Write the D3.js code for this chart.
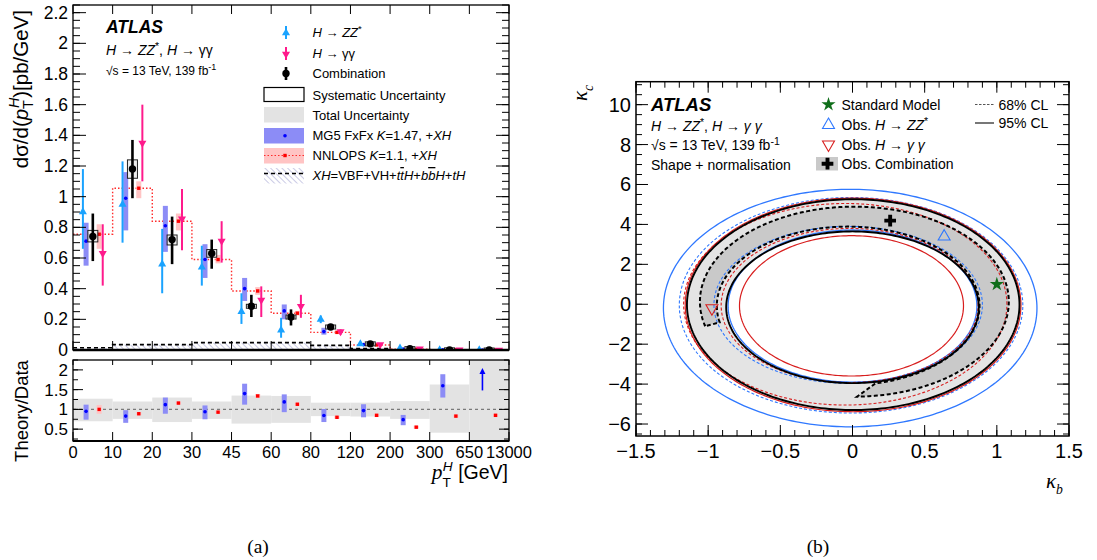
<!DOCTYPE html>
<html><head><meta charset="utf-8">
<script src="https://cdn.jsdelivr.net/npm/d3@7/dist/d3.min.js"></script>
<style>html,body{margin:0;padding:0;background:#fff;}svg{display:block;}</style>
</head><body>
<svg id="chart" width="1097" height="560"></svg>
<script>
// ================= DATA =================
// (a) differential cross section, bins of pT^H [GeV]
const binEdgeLabels = ["0","10","20","30","45","60","80","120","200","300","650","13000"];
const zzVal   = [0.90,0.95,0.56,0.54,0.25,0.13,0.20,0.040,0.012,0.0015,0.0001];
const zzLo    = [0.66,0.70,0.37,0.42,0.17,0.08,0.175,0.030,0.006,0.0005,0];
const zzHi    = [1.18,1.23,0.79,0.68,0.37,0.21,0.225,0.052,0.018,0.003,0.0005];
const yyVal   = [0.63,1.35,0.855,0.71,0.325,0.285,0.12,0.035,0.008,0.0013,0.0001];
const yyLo    = [0.42,1.10,0.65,0.57,0.215,0.21,0.10,0.028,0.005,0.0007,0];
const yyHi    = [0.82,1.60,1.05,0.84,0.415,0.36,0.135,0.042,0.011,0.002,0.0003];
const combVal = [0.74,1.18,0.72,0.63,0.285,0.215,0.15,0.040,0.009,0.0011,0.00005];
const combLo  = [0.58,0.99,0.56,0.53,0.215,0.16,0.13,0.034,0.007,0.0007,0];
const combHi  = [0.89,1.37,0.87,0.72,0.36,0.265,0.165,0.046,0.011,0.0015,0.0002];
const combSysLo = [0.705,1.12,0.685,0.605,0.272,0.207,0.145,0.038,0.0085,0.001,0.00004];
const combSysHi = [0.78,1.24,0.75,0.655,0.298,0.228,0.155,0.042,0.0095,0.0012,0.00006];
const mgVal   = [0.71,0.99,0.81,0.59,0.40,0.255,0.12,0.035,0.0067,0.0018,0.0001];
const mgLo    = [0.55,0.78,0.64,0.47,0.32,0.20,0.10,0.028,0.0054,0.0014,0];
const mgHi    = [0.83,1.16,0.94,0.69,0.47,0.297,0.145,0.040,0.0078,0.0021,0.0002];
const nnVal   = [0.755,1.055,0.84,0.59,0.385,0.24,0.115,0.033,0.005,0.0009,0.00004];
const nnLo    = [0.66,0.99,0.78,0.565,0.36,0.225,0.105,0.030,0.0045,0.0008,0];
const nnHi    = [0.82,1.10,0.89,0.62,0.41,0.255,0.125,0.036,0.0055,0.001,0.0001];
const xhVal   = [0.015,0.035,0.035,0.048,0.048,0.048,0.030,0.010,0.002,0.0003,0.00001];
// ratio panel (Theory/Data)
const totLo   = [0.70,0.76,0.68,0.76,0.64,0.66,0.83,0.82,0.76,0.41,0.20];
const totHi   = [1.27,1.20,1.30,1.20,1.35,1.34,1.17,1.17,1.21,1.63,2.25];
const rMg     = [0.95,0.83,1.12,0.94,1.40,1.19,0.845,0.97,0.74,1.60,null];
const rMgLo   = [0.74,0.66,0.89,0.75,1.12,0.93,0.68,0.80,0.60,1.30,null];
const rMgHi   = [1.12,0.98,1.30,1.10,1.65,1.38,1.01,1.13,0.86,1.89,null];
const rMgArrow = [10, 1.48, 2.02];   // bin, from, to (off-scale point)
const rNn     = [1.00,0.89,1.16,0.93,1.34,1.13,0.80,0.85,0.55,0.83,0.85];
const rNnErr  = [0.11,0.04,0.04,0.04,0.05,0.04,0.04,0.04,0.04,0.04,0.04];
const yMainTicks  = [0,0.2,0.4,0.6,0.8,1,1.2,1.4,1.6,1.8,2,2.2];
const yRatioTicks = [0.5,1,1.5,2];

// (b) kappa_b - kappa_c contours, each ellipse = [kb centre, kc centre, kb half-width, kc half-height]
const zz95Outer  = [-0.016,-0.19,1.294,5.95];
const zz95Inner  = [0.000,-0.09,0.862,3.81];
const zz68Outer  = [-0.010,-0.05,1.190,5.40];
const zz68Inner  = [-0.030,-0.03,0.930,3.93];
const yy95Outer  = [0.004,-0.035,1.163,5.35];
const yy95Inner  = [-0.007,-0.08,0.776,3.515];
const yy68Outer  = [-0.050,0.00,1.120,5.05];
const yy68Inner  = [-0.020,-0.06,0.890,3.86];
const comb95Outer= [0.005,-0.02,1.152,5.28];
const comb95Inner= [0.000,-0.15,0.875,3.80];
const comb68Outer= [0.013,0.13,1.070,4.76];
const comb68Inner= [-0.030,-0.08,0.910,3.97];
const comb68Arc  = [195,-89,192,-78];   // outer start/end, inner start/end angle (deg)
const smPoint    = [1.0,1.0];
const zzBest     = [0.635,3.39];
const yyBest     = [-0.974,-0.20];
const combBest   = [0.261,4.19];
const kbTicks = [-1.5,-1,-0.5,0,0.5,1,1.5];
const kcTicks = [-6,-4,-2,0,2,4,6,8,10];

// ================= SETUP =================
const SANS='"Liberation Sans", Arial, Helvetica, sans-serif';
const SERIF='"Liberation Serif","Times New Roman",serif';
const svg=d3.select("#chart").attr("font-family",SANS);

function rich(parent,x,y,parts,size,opt={}){
  const t=parent.append("text").attr("x",x).attr("y",y).attr("font-size",size).attr("fill",opt.fill||"#000");
  if(opt.anchor) t.attr("text-anchor",opt.anchor);
  if(opt.rotate!=null) t.attr("transform",`rotate(${opt.rotate},${x},${y})`);
  if(opt.family) t.attr("font-family",opt.family);
  if(opt.weight) t.attr("font-weight",opt.weight);
  if(opt.style) t.attr("font-style",opt.style);
  let cur=0;
  parts.forEach(p=>{
    if(typeof p==="string") p={s:p};
    const sh=p.sh||0;
    const ts=t.append("tspan").text(p.s);
    if(sh!==cur){ts.attr("dy",sh-cur);cur=sh;}
    if(p.dx) ts.attr("dx",p.dx);
    if(p.it) ts.attr("font-style","italic");
    if(p.b) ts.attr("font-weight","bold");
    if(p.fs) ts.attr("font-size",size*p.fs);
    if(p.ov) ts.style("text-decoration","overline");
    if(p.ff) ts.attr("font-family",p.ff);
  });
  return t;
}
function ticks(g,vals,scale,orient,pos,len,sw=1){
  g.selectAll(null).data(vals).join("line")
    .attr("x1",d=>orient==="h"?pos:scale(d)).attr("x2",d=>orient==="h"?pos+len:scale(d))
    .attr("y1",d=>orient==="h"?scale(d):pos).attr("y2",d=>orient==="h"?scale(d):pos+len)
    .attr("stroke","#000").attr("stroke-width",sw);
}

const defs=svg.append("defs");
defs.html(`<pattern id="hatch" patternUnits="userSpaceOnUse" width="4" height="4" patternTransform="rotate(-45)"><line x1="0" y1="0" x2="0" y2="4" stroke="#b3b3da" stroke-width="1.4"/></pattern>`);

// ================= LEFT PANEL =================
const nb=binEdgeLabels.length-1;
const bins=d3.range(nb);
const xL=d3.scaleLinear().domain([0,nb]).range([73,509]);
const yM=d3.scaleLinear().domain([0,2.25]).range([350,5]);
const yR=d3.scaleLinear().domain([0.2,2.25]).range([441,360]);
const off={zz:0.25,mg:0.33,comb:0.5,nn:0.66,yy:0.75};
const [mx0,mx1]=xL.range();

defs.append("clipPath").attr("id","clipM").append("rect")
  .attr("x",mx0).attr("y",yM(2.25)).attr("width",mx1-mx0).attr("height",yM(0)-yM(2.25));
defs.append("clipPath").attr("id","clipR").append("rect")
  .attr("x",mx0).attr("y",yR(2.25)).attr("width",mx1-mx0).attr("height",yR(0.2)-yR(2.25));

const gM=svg.append("g").attr("clip-path","url(#clipM)");
const stepPts=arr=>bins.map(i=>[i,arr[i]]).concat([[nb,arr[nb-1]]]);
// XH hatched
gM.append("path").datum(stepPts(xhVal))
  .attr("d",d3.area().curve(d3.curveStepAfter).x(d=>xL(d[0])).y0(yM(0)).y1(d=>yM(d[1])))
  .attr("fill","url(#hatch)");
gM.append("path").datum(stepPts(xhVal))
  .attr("d",d3.line().curve(d3.curveStepAfter).x(d=>xL(d[0])).y(d=>yM(d[1])))
  .attr("fill","none").attr("stroke","#000").attr("stroke-width",1.6).attr("stroke-dasharray","4,3");
// NNLOPS dotted histogram
gM.append("path").datum(stepPts(nnVal))
  .attr("d",d3.line().curve(d3.curveStepAfter).x(d=>xL(d[0])).y(d=>yM(d[1])))
  .attr("fill","none").attr("stroke","#ff2a2a").attr("stroke-width",1.4).attr("stroke-dasharray","1.5,2");
// MG5 boxes
gM.selectAll(null).data(bins).join("rect")
  .attr("x",i=>xL(i+off.mg)-2.5).attr("width",5)
  .attr("y",i=>yM(mgHi[i])).attr("height",i=>Math.max(1.5,yM(mgLo[i])-yM(mgHi[i])))
  .attr("fill","#8c8cf6");
gM.selectAll(null).data(bins).join("circle")
  .attr("cx",i=>xL(i+off.mg)).attr("cy",i=>yM(mgVal[i])).attr("r",1.8).attr("fill","#0000ff");
// NNLOPS boxes
gM.selectAll(null).data(bins).join("rect")
  .attr("x",i=>xL(i+off.nn)-2.5).attr("width",5)
  .attr("y",i=>yM(nnHi[i])).attr("height",i=>Math.max(1.5,yM(nnLo[i])-yM(nnHi[i])))
  .attr("fill","#ffc4c4");
gM.selectAll(null).data(bins).join("rect")
  .attr("x",i=>xL(i+off.nn)-1.7).attr("y",i=>yM(nnVal[i])-1.7).attr("width",3.4).attr("height",3.4).attr("fill","#ff0000");
// ZZ
const cZZ="#1aa3ff", cYY="#ff1a8c";
gM.selectAll(null).data(bins).join("line")
  .attr("x1",i=>xL(i+off.zz)).attr("x2",i=>xL(i+off.zz)).attr("y1",i=>yM(zzLo[i])).attr("y2",i=>yM(zzHi[i]))
  .attr("stroke",cZZ).attr("stroke-width",2);
gM.selectAll(null).data(bins).join("path")
  .attr("d",d3.symbol(d3.symbolTriangle,28))
  .attr("transform",i=>`translate(${xL(i+off.zz)},${yM(zzVal[i])})`).attr("fill",cZZ);
// gamma gamma
gM.selectAll(null).data(bins).join("line")
  .attr("x1",i=>xL(i+off.yy)).attr("x2",i=>xL(i+off.yy)).attr("y1",i=>yM(yyLo[i])).attr("y2",i=>yM(yyHi[i]))
  .attr("stroke",cYY).attr("stroke-width",2);
gM.selectAll(null).data(bins).join("path")
  .attr("d",d3.symbol(d3.symbolTriangle,28))
  .attr("transform",i=>`translate(${xL(i+off.yy)},${yM(yyVal[i])}) rotate(180)`).attr("fill",cYY);
// combination: sys box, error bar, dot
gM.selectAll(null).data(bins).join("rect")
  .attr("x",i=>xL(i+off.comb)-5).attr("width",10)
  .attr("y",i=>{const h=yM(combSysLo[i])-yM(combSysHi[i]);return h<4?yM(combVal[i])-2:yM(combSysHi[i]);})
  .attr("height",i=>Math.max(4,yM(combSysLo[i])-yM(combSysHi[i])))
  .attr("fill","#e4e4e4").attr("fill-opacity",0.7).attr("stroke","#222").attr("stroke-width",1);
gM.selectAll(null).data(bins).join("line")
  .attr("x1",i=>xL(i+off.comb)).attr("x2",i=>xL(i+off.comb)).attr("y1",i=>yM(combLo[i])).attr("y2",i=>yM(combHi[i]))
  .attr("stroke","#000").attr("stroke-width",2.6);
gM.selectAll(null).data(bins).join("circle")
  .attr("cx",i=>xL(i+off.comb)).attr("cy",i=>yM(combVal[i])).attr("r",3.7).attr("fill","#000");

// main frame + ticks
const gA=svg.append("g");
gA.append("rect").attr("x",mx0).attr("y",yM(2.25)).attr("width",mx1-mx0).attr("height",yM(0)-yM(2.25))
  .attr("fill","none").attr("stroke","#000").attr("stroke-width",1.3);
gA.append("line").attr("x1",mx0).attr("x2",mx1).attr("y1",yM(0)).attr("y2",yM(0)).attr("stroke","#000").attr("stroke-width",2.4);
const yMinor=d3.range(0,46).map(i=>i*0.05);
ticks(gA,yMinor,yM,"h",mx0,7); ticks(gA,yMainTicks,yM,"h",mx0,13);
ticks(gA,yMinor,yM,"h",mx1,-7); ticks(gA,yMainTicks,yM,"h",mx1,-13);
const edges=d3.range(0,nb+1);
ticks(gA,edges,xL,"v",yM(2.25),9); ticks(gA,edges,xL,"v",yM(0),-9);
gA.selectAll(null).data(yMainTicks).join("text")
  .attr("x",mx0-5).attr("y",d=>yM(d)+6).attr("text-anchor","end").attr("font-size",17.5)
  .text(d=>String(+d.toFixed(1)));

// ratio panel
const gR=svg.append("g").attr("clip-path","url(#clipR)");
gR.selectAll(null).data(bins).join("rect")
  .attr("x",i=>xL(i)).attr("width",i=>xL(i+1)-xL(i))
  .attr("y",i=>yR(totHi[i])).attr("height",i=>yR(totLo[i])-yR(totHi[i])).attr("fill","#e3e3e3");
gR.append("line").attr("x1",mx0).attr("x2",mx1).attr("y1",yR(1)).attr("y2",yR(1))
  .attr("stroke","#7a7a7a").attr("stroke-width",1.4).attr("stroke-dasharray","3,3");
const mgB=bins.filter(i=>rMg[i]!=null);
gR.selectAll(null).data(mgB).join("rect")
  .attr("x",i=>xL(i+off.mg)-2.5).attr("width",5).attr("y",i=>yR(rMgHi[i])).attr("height",i=>yR(rMgLo[i])-yR(rMgHi[i]))
  .attr("fill","#8c8cf6");
gR.selectAll(null).data(mgB).join("circle")
  .attr("cx",i=>xL(i+off.mg)).attr("cy",i=>yR(rMg[i])).attr("r",1.8).attr("fill","#0000ff");
gR.selectAll(null).data(bins).join("rect")
  .attr("x",i=>xL(i+off.nn)-2.5).attr("width",5).attr("y",i=>yR(rNn[i]+rNnErr[i])).attr("height",i=>yR(rNn[i]-rNnErr[i])-yR(rNn[i]+rNnErr[i]))
  .attr("fill","#ffc4c4");
gR.selectAll(null).data(bins).join("rect")
  .attr("x",i=>xL(i+off.nn)-1.7).attr("y",i=>yR(rNn[i])-1.7).attr("width",3.4).attr("height",3.4).attr("fill","#ff0000");
{
  const ax=xL(rMgArrow[0]+off.mg);
  gR.append("line").attr("x1",ax).attr("x2",ax).attr("y1",yR(rMgArrow[1])).attr("y2",yR(rMgArrow[2])+3)
    .attr("stroke","#0000ff").attr("stroke-width",1.6);
  gR.append("path").attr("d",`M${ax-3},${yR(rMgArrow[2])+5}L${ax},${yR(rMgArrow[2])-1}L${ax+3},${yR(rMgArrow[2])+5}Z`).attr("fill","#0000ff");
}
const gRA=svg.append("g");
gRA.append("rect").attr("x",mx0).attr("y",yR(2.25)).attr("width",mx1-mx0).attr("height",yR(0.2)-yR(2.25))
  .attr("fill","none").attr("stroke","#000").attr("stroke-width",1.3);
gRA.append("line").attr("x1",mx0).attr("x2",mx1).attr("y1",yR(0.2)).attr("y2",yR(0.2)).attr("stroke","#000").attr("stroke-width",2);
const rMinor=[0.25,0.5,0.75,1,1.25,1.5,1.75,2,2.25];
ticks(gRA,rMinor,yR,"h",mx0,5); ticks(gRA,yRatioTicks,yR,"h",mx0,10);
ticks(gRA,rMinor,yR,"h",mx1,-5); ticks(gRA,yRatioTicks,yR,"h",mx1,-10);
ticks(gRA,edges,xL,"v",yR(2.25),5); ticks(gRA,edges,xL,"v",yR(0.2),-9);
gRA.selectAll(null).data(yRatioTicks).join("text")
  .attr("x",mx0-5).attr("y",d=>yR(d)+6).attr("text-anchor","end").attr("font-size",17).text(d=>String(d));
gRA.selectAll(null).data(edges).join("text")
  .attr("x",i=>xL(i)).attr("y",yR(0.2)+17).attr("text-anchor","middle").attr("font-size",16.5).text(i=>binEdgeLabels[i]);

// axis titles left
rich(svg,28,10,["dσ/d(",{s:"p",it:1},{s:"T",fs:0.7,sh:5},{s:"H",fs:0.7,it:1,sh:-9,dx:-8},{s:")[pb/GeV]",sh:0}],20.5,{anchor:"end",rotate:-90});
rich(svg,28,411,["Theory/Data"],18.5,{anchor:"middle",rotate:-90});
rich(svg,508,479,[{s:"p",it:1,ff:SERIF,fs:1.1},{s:"T",fs:0.7,sh:8},{s:"H",fs:0.7,it:1,sh:-8,dx:-8},{s:" [GeV]",sh:0}],19.5,{anchor:"end"});

// texts left
rich(svg,106,33,[{s:"ATLAS",b:1,it:1}],17.5);
rich(svg,106,55,[{s:"H",it:1}," → ",{s:"ZZ",it:1},{s:"*",sh:-5,fs:0.75},{s:", ",sh:0},{s:"H",it:1}," → γγ"],14);
rich(svg,106,75,["√s = 13 TeV, 139 fb",{s:"-1",sh:-5,fs:0.75}],12);

// legend left
const lgx=286, lgt=312.5;
svg.append("line").attr("x1",lgx).attr("x2",lgx).attr("y1",26).attr("y2",39).attr("stroke",cZZ).attr("stroke-width",2);
svg.append("path").attr("d",d3.symbol(d3.symbolTriangle,28)).attr("transform",`translate(${lgx},33)`).attr("fill",cZZ);
svg.append("line").attr("x1",lgx).attr("x2",lgx).attr("y1",47).attr("y2",60).attr("stroke",cYY).attr("stroke-width",2);
svg.append("path").attr("d",d3.symbol(d3.symbolTriangle,28)).attr("transform",`translate(${lgx},54) rotate(180)`).attr("fill",cYY);
svg.append("line").attr("x1",lgx).attr("x2",lgx).attr("y1",67).attr("y2",80).attr("stroke","#000").attr("stroke-width",2.6);
svg.append("circle").attr("cx",lgx).attr("cy",73.5).attr("r",3.7).attr("fill","#000");
svg.append("rect").attr("x",264).attr("y",87.5).attr("width",40).attr("height",14).attr("fill","none").attr("stroke","#000").attr("stroke-width",1.2);
svg.append("rect").attr("x",264).attr("y",107).attr("width",40).attr("height",15.5).attr("fill","#e3e3e3");
svg.append("rect").attr("x",264).attr("y",128).attr("width",40).attr("height",15.5).attr("fill","#8c8cf6");
svg.append("circle").attr("cx",lgx-1).attr("cy",135.7).attr("r",1.8).attr("fill","#0000ff");
svg.append("rect").attr("x",264).attr("y",148).attr("width",40).attr("height",15.5).attr("fill","#ffc4c4");
svg.append("line").attr("x1",264).attr("x2",304).attr("y1",155.5).attr("y2",155.5).attr("stroke","#ff2a2a").attr("stroke-width",1.2).attr("stroke-dasharray","1.5,2");
svg.append("rect").attr("x",lgx-2.7).attr("y",153.8).attr("width",3.4).attr("height",3.4).attr("fill","#ff0000");
svg.append("rect").attr("x",264).attr("y",168).attr("width",40).attr("height",15.5).attr("fill","url(#hatch)");
svg.append("line").attr("x1",264).attr("x2",304).attr("y1",173.5).attr("y2",173.5).attr("stroke","#000").attr("stroke-width",1.6).attr("stroke-dasharray","4,3");
const lfs=13;
rich(svg,lgt,37,[{s:"H",it:1}," → ",{s:"ZZ",it:1},{s:"*",sh:-5,fs:0.75}],lfs);
rich(svg,lgt,58,[{s:"H",it:1}," → γγ"],lfs);
rich(svg,lgt,78,["Combination"],lfs);
rich(svg,lgt,99.5,["Systematic Uncertainty"],lfs);
rich(svg,lgt,119.5,["Total Uncertainty"],lfs);
rich(svg,lgt,140,["MG5 FxFx ",{s:"K",it:1},"=1.47, +",{s:"XH",it:1}],lfs);
rich(svg,lgt,160,["NNLOPS ",{s:"K",it:1},"=1.1, +",{s:"XH",it:1}],lfs);
rich(svg,lgt,180,[{s:"XH",it:1},"=VBF+VH+",{s:"t",it:1},{s:"t",it:1,ov:1},{s:"H",it:1},"+",{s:"b",it:1},{s:"b",it:1,ov:1},{s:"H",it:1},"+",{s:"tH",it:1}],lfs);

// ================= RIGHT PANEL =================
const xK=d3.scaleLinear().domain([-1.5,1.5]).range([636,1069]);
const yK=d3.scaleLinear().domain([-6.6,11.15]).range([436,81.7]);
defs.append("clipPath").attr("id","clipK").append("rect")
  .attr("x",xK(-1.5)).attr("y",yK(11.15)).attr("width",xK(1.5)-xK(-1.5)).attr("height",yK(-6.6)-yK(11.15));
function ellPts(e,a0=0,a1=360,n=260){
  const [cx,cy,rx,ry]=e;
  return d3.range(n+1).map(i=>{const t=(a0+(a1-a0)*i/n)*Math.PI/180;return [cx+rx*Math.cos(t),cy+ry*Math.sin(t)];});
}
const lineK=d3.line().x(d=>xK(d[0])).y(d=>yK(d[1]));
const gK=svg.append("g").attr("clip-path","url(#clipK)");
// 95% combination region
gK.append("path").attr("d",lineK(ellPts(comb95Outer))+"Z"+lineK(ellPts(comb95Inner))+"Z")
  .attr("fill","#e4e4e4").attr("fill-rule","evenodd");
// 68% combination region (crescent)
const cres=ellPts(comb68Outer,comb68Arc[0],comb68Arc[1]).concat(ellPts(comb68Inner,comb68Arc[3],comb68Arc[2]));
gK.append("path").attr("d",lineK(cres)+"Z").attr("fill","#c9c9c9");
const cBlue="#2f78ff", cRed="#d81e1e";
function ell(e,color,w,dash){
  const p=gK.append("path").attr("d",lineK(ellPts(e))+"Z").attr("fill","none").attr("stroke",color).attr("stroke-width",w);
  if(dash) p.attr("stroke-dasharray",dash);
}
ell(zz95Outer,cBlue,1.3); ell(zz95Inner,cBlue,1.3);
ell(zz68Outer,cBlue,1.1,"3,2"); ell(zz68Inner,cBlue,1.1,"3,2");
ell(yy95Outer,cRed,1.2); ell(yy95Inner,cRed,1.2);
ell(yy68Outer,cRed,1.1,"3,2"); ell(yy68Inner,cRed,1.1,"3,2");
ell(comb95Outer,"#000",1.9); ell(comb95Inner,"#000",1.9);
gK.append("path").attr("d",lineK(cres)+"Z").attr("fill","none").attr("stroke","#000").attr("stroke-width",2).attr("stroke-dasharray","4,2.5");
// markers
gK.append("path").attr("d",d3.symbol(d3.symbolStar,62)).attr("transform",`translate(${xK(smPoint[0])},${yK(smPoint[1])})`).attr("fill","#0f6e1a");
gK.append("path").attr("d",d3.symbol(d3.symbolTriangle,62)).attr("transform",`translate(${xK(zzBest[0])},${yK(zzBest[1])})`).attr("fill","none").attr("stroke",cBlue).attr("stroke-width",1.1);
gK.append("path").attr("d",d3.symbol(d3.symbolTriangle,62)).attr("transform",`translate(${xK(yyBest[0])},${yK(yyBest[1])}) rotate(180)`).attr("fill","none").attr("stroke",cRed).attr("stroke-width",1.1);
gK.append("path").attr("d",d3.symbol(d3.symbolCross,76)).attr("transform",`translate(${xK(combBest[0])},${yK(combBest[1])})`).attr("fill","#000");

// frame + ticks right
const gKA=svg.append("g");
gKA.append("rect").attr("x",xK(-1.5)).attr("y",yK(11.15)).attr("width",xK(1.5)-xK(-1.5)).attr("height",yK(-6.6)-yK(11.15))
  .attr("fill","none").attr("stroke","#000").attr("stroke-width",1.5);
const kbMinor=d3.range(-15,16).map(i=>i/10);
const kcMinor=d3.range(-13,23).map(i=>i/2);
ticks(gKA,kbMinor,xK,"v",yK(-6.6),-6); ticks(gKA,kbTicks,xK,"v",yK(-6.6),-11);
ticks(gKA,kbMinor,xK,"v",yK(11.15),6); ticks(gKA,kbTicks,xK,"v",yK(11.15),11);
ticks(gKA,kcMinor,yK,"h",xK(-1.5),6); ticks(gKA,kcTicks,yK,"h",xK(-1.5),12);
ticks(gKA,kcMinor,yK,"h",xK(1.5),-6); ticks(gKA,kcTicks,yK,"h",xK(1.5),-12);
const mfmt=d=>d<0?"−"+Math.abs(d):String(d);
gKA.selectAll(null).data(kbTicks).join("text").attr("x",d=>xK(d)).attr("y",yK(-6.6)+22)
  .attr("text-anchor","middle").attr("font-size",20).text(mfmt);
gKA.selectAll(null).data(kcTicks).join("text").attr("x",xK(-1.5)-5).attr("y",d=>yK(d)+7)
  .attr("text-anchor","end").attr("font-size",20).text(mfmt);
rich(svg,1046,488,[{s:"κ",it:1},{s:"b",it:1,fs:0.65,sh:6}],21,{family:SERIF});
rich(svg,587,101,[{s:"κ",it:1},{s:"c",it:1,fs:0.65,sh:6}],21,{family:SERIF,rotate:-90});

// texts right
rich(svg,651,111,[{s:"ATLAS",b:1,it:1}],18.5);
rich(svg,651,131,[{s:"H",it:1}," → ",{s:"ZZ",it:1},{s:"*",sh:-5,fs:0.75},{s:", ",sh:0},{s:"H",it:1}," → ",{s:"γ γ",it:1}],14);
rich(svg,651,150,["√s = 13 TeV, 139 fb",{s:"-1",sh:-5,fs:0.75}],14);
rich(svg,651,170,["Shape + normalisation"],14);
// legend right
const kmx=828.5, ktx=841.5;
svg.append("path").attr("d",d3.symbol(d3.symbolStar,62)).attr("transform",`translate(${kmx},104.5)`).attr("fill","#0f6e1a");
svg.append("path").attr("d",d3.symbol(d3.symbolTriangle,62)).attr("transform",`translate(${kmx},125)`).attr("fill","none").attr("stroke",cBlue).attr("stroke-width",1.1);
svg.append("path").attr("d",d3.symbol(d3.symbolTriangle,62)).attr("transform",`translate(${kmx},144.5) rotate(180)`).attr("fill","none").attr("stroke",cRed).attr("stroke-width",1.1);
svg.append("rect").attr("x",816).attr("y",157).attr("width",22).attr("height",13.5).attr("fill","#c9c9c9");
svg.append("path").attr("d",d3.symbol(d3.symbolCross,76)).attr("transform",`translate(${kmx-1},163.7)`).attr("fill","#000");
rich(svg,ktx,109.5,["Standard Model"],14);
rich(svg,ktx,130,["Obs. ",{s:"H",it:1}," → ",{s:"ZZ",it:1},{s:"*",sh:-5,fs:0.75}],14);
rich(svg,ktx,149.5,["Obs. ",{s:"H",it:1}," → ",{s:"γ γ",it:1}],14);
rich(svg,ktx,169,["Obs. Combination"],14);
svg.append("line").attr("x1",975).attr("x2",994).attr("y1",104.5).attr("y2",104.5).attr("stroke","#555").attr("stroke-width",1).attr("stroke-dasharray","2.5,1.5");
svg.append("line").attr("x1",975).attr("x2",994).attr("y1",123).attr("y2",123).attr("stroke","#555").attr("stroke-width",1.6);
rich(svg,998.5,109.5,["68% CL"],14);
rich(svg,998.5,128,["95% CL"],14);

// captions
rich(svg,258,553,["(a)"],19.5,{anchor:"middle",family:SERIF});
rich(svg,818,553,["(b)"],19.5,{anchor:"middle",family:SERIF});
</script>
</body></html>
